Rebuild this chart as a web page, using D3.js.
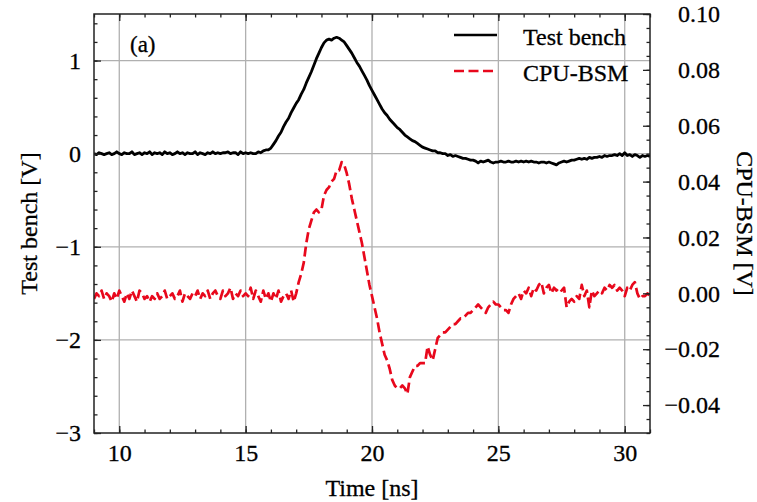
<!DOCTYPE html>
<html>
<head>
<meta charset="utf-8">
<script src="https://cdn.jsdelivr.net/npm/d3@7"></script>
<style>
  body { margin: 0; background: white; }
  svg { font-family: "Liberation Serif", "DejaVu Serif", serif; }
  svg text { fill: #000; stroke: #000; stroke-width: 0.3px; }
</style>
</head>
<body>
<svg id="chart" width="757" height="502"></svg>
<script>
// sample times [ns]
var timeNs = [
  9.0, 9.1, 9.2, 9.3, 9.4, 9.5, 9.6, 9.7, 9.8, 9.9,
  10.0, 10.1, 10.2, 10.3, 10.4, 10.5, 10.6, 10.7, 10.8, 10.9,
  11.0, 11.1, 11.2, 11.3, 11.4, 11.5, 11.6, 11.7, 11.8, 11.9,
  12.0, 12.1, 12.2, 12.3, 12.4, 12.5, 12.6, 12.7, 12.8, 12.9,
  13.0, 13.1, 13.2, 13.3, 13.4, 13.5, 13.6, 13.7, 13.8, 13.9,
  14.0, 14.1, 14.2, 14.3, 14.4, 14.5, 14.6, 14.7, 14.8, 14.9,
  15.0, 15.1, 15.2, 15.3, 15.4, 15.5, 15.6, 15.7, 15.8, 15.9,
  16.0, 16.1, 16.2, 16.3, 16.4, 16.5, 16.6, 16.7, 16.8, 16.9,
  17.0, 17.1, 17.2, 17.3, 17.4, 17.5, 17.6, 17.7, 17.8, 17.9,
  18.0, 18.1, 18.2, 18.3, 18.4, 18.5, 18.6, 18.7, 18.8, 18.9,
  19.0, 19.1, 19.2, 19.3, 19.4, 19.5, 19.6, 19.7, 19.8, 19.9,
  20.0, 20.1, 20.2, 20.3, 20.4, 20.5, 20.6, 20.7, 20.8, 20.9,
  21.0, 21.1, 21.2, 21.3, 21.4, 21.5, 21.6, 21.7, 21.8, 21.9,
  22.0, 22.1, 22.2, 22.3, 22.4, 22.5, 22.6, 22.7, 22.8, 22.9,
  23.0, 23.1, 23.2, 23.3, 23.4, 23.5, 23.6, 23.7, 23.8, 23.9,
  24.0, 24.1, 24.2, 24.3, 24.4, 24.5, 24.6, 24.7, 24.8, 24.9,
  25.0, 25.1, 25.2, 25.3, 25.4, 25.5, 25.6, 25.7, 25.8, 25.9,
  26.0, 26.1, 26.2, 26.3, 26.4, 26.5, 26.6, 26.7, 26.8, 26.9,
  27.0, 27.1, 27.2, 27.3, 27.4, 27.5, 27.6, 27.7, 27.8, 27.9,
  28.0, 28.1, 28.2, 28.3, 28.4, 28.5, 28.6, 28.7, 28.8, 28.9,
  29.0, 29.1, 29.2, 29.3, 29.4, 29.5, 29.6, 29.7, 29.8, 29.9,
  30.0, 30.1, 30.2, 30.3, 30.4, 30.5, 30.6, 30.7, 30.8, 30.9,
  31.0
];

// Test bench [V] (left axis)
var testBenchV = [
  0.00, -0.01, 0.01, 0.00, -0.01, 0.00, 0.01, -0.01, 0.00, 0.02,
  0.00, -0.01, 0.01, 0.00, 0.00, 0.02, -0.01, 0.00, 0.01, -0.01,
  0.01, 0.00, 0.02, -0.01, 0.01, 0.00, 0.01, -0.01, 0.02, 0.00,
  0.01, -0.01, 0.00, 0.02, 0.00, 0.01, -0.01, 0.01, 0.00, 0.00,
  0.02, -0.01, 0.01, 0.00, -0.01, 0.01, 0.00, 0.02, 0.00, 0.01,
  0.00, 0.01, 0.01, 0.02, 0.00, 0.01, 0.01, -0.01, 0.02, 0.00,
  0.01, 0.00, 0.01, 0.00, 0.00, 0.02, 0.01, 0.03, 0.04, 0.04,
  0.06, 0.10, 0.14, 0.19, 0.23, 0.29, 0.34, 0.38, 0.44, 0.49,
  0.54, 0.58, 0.64, 0.69, 0.76, 0.82, 0.88, 0.95, 1.02, 1.08,
  1.14, 1.19, 1.22, 1.23, 1.22, 1.24, 1.25, 1.24, 1.22, 1.20,
  1.16, 1.12, 1.08, 1.03, 0.98, 0.94, 0.89, 0.84, 0.79, 0.73,
  0.68, 0.63, 0.58, 0.53, 0.48, 0.44, 0.41, 0.37, 0.34, 0.31,
  0.28, 0.26, 0.23, 0.20, 0.18, 0.16, 0.14, 0.13, 0.11, 0.09,
  0.07, 0.06, 0.05, 0.04, 0.03, 0.03, 0.01, 0.01, 0.00, 0.00,
  -0.02, -0.01, -0.03, -0.02, -0.03, -0.04, -0.05, -0.05, -0.06, -0.07,
  -0.07, -0.08, -0.10, -0.08, -0.09, -0.08, -0.07, -0.09, -0.10, -0.09,
  -0.09, -0.08, -0.09, -0.09, -0.08, -0.09, -0.09, -0.08, -0.09, -0.08,
  -0.09, -0.08, -0.09, -0.08, -0.09, -0.09, -0.10, -0.09, -0.09, -0.10,
  -0.09, -0.10, -0.11, -0.12, -0.10, -0.09, -0.08, -0.09, -0.08, -0.07,
  -0.07, -0.06, -0.05, -0.06, -0.05, -0.06, -0.04, -0.05, -0.04, -0.04,
  -0.03, -0.04, -0.02, -0.03, -0.02, -0.02, -0.01, -0.02, 0.00, -0.02,
  0.01, -0.02, -0.01, -0.03, -0.01, -0.02, -0.04, -0.02, -0.03, -0.02,
  -0.03
];

// CPU-BSM [V] (right axis)
var cpuBsmV = [
  -0.002, 0.000, -0.001, 0.001, -0.002, 0.000, -0.001, -0.003, 0.000, -0.002,
  0.001, -0.001, -0.003, 0.000, -0.002, 0.001, -0.001, -0.003, 0.001, 0.000,
  -0.002, -0.001, -0.003, -0.001, -0.002, 0.000, -0.002, -0.001, 0.001, -0.002,
  -0.001, 0.000, -0.002, -0.001, 0.001, -0.003, 0.000, -0.001, -0.002, 0.000,
  -0.001, 0.001, -0.002, 0.000, -0.001, 0.001, -0.002, 0.000, 0.001, -0.001,
  -0.002, 0.001, -0.001, 0.000, 0.002, -0.002, 0.000, -0.001, 0.001, -0.001,
  0.000, -0.001, 0.002, -0.002, 0.001, -0.001, -0.003, 0.001, -0.002, 0.000,
  -0.003, 0.000, -0.002, 0.001, -0.003, -0.001, 0.000, -0.002, 0.001, -0.003,
  0.000, 0.004, 0.007, 0.011, 0.018, 0.023, 0.026, 0.029, 0.030, 0.029,
  0.030, 0.035, 0.037, 0.038, 0.040, 0.041, 0.044, 0.044, 0.047, 0.046,
  0.043, 0.039, 0.034, 0.030, 0.026, 0.022, 0.018, 0.013, 0.008, 0.003,
  -0.001, -0.005, -0.009, -0.014, -0.018, -0.022, -0.024, -0.027, -0.031, -0.033,
  -0.034, -0.034, -0.033, -0.034, -0.036, -0.030, -0.028, -0.026, -0.026, -0.025,
  -0.025, -0.025, -0.019, -0.022, -0.024, -0.020, -0.016, -0.015, -0.014, -0.014,
  -0.013, -0.012, -0.011, -0.011, -0.010, -0.009, -0.009, -0.008, -0.007, -0.007,
  -0.006, -0.005, -0.004, -0.005, -0.006, -0.007, -0.005, -0.004, -0.003, -0.004,
  -0.004, -0.005, -0.006, -0.006, -0.007, -0.004, -0.002, -0.001, 0.000, -0.002,
  0.001, 0.000, 0.002, -0.001, 0.002, 0.001, 0.003, 0.004, 0.000, 0.002,
  0.003, 0.000, 0.002, 0.001, 0.002, 0.001, 0.002, -0.005, -0.003, -0.002,
  -0.003, -0.001, -0.002, 0.003, -0.001, 0.001, -0.005, 0.001, -0.001, 0.000,
  0.001, 0.000, 0.002, 0.001, 0.003, 0.002, 0.003, 0.001, 0.002, 0.001,
  -0.001, 0.002, 0.001, 0.003, 0.004, 0.000, -0.002, -0.001, -0.001, 0.000,
  -0.001
];

var xTicks = [10, 15, 20, 25, 30];
var leftTicks = [-3, -2, -1, 0, 1];
var rightTicks = [-0.04, -0.02, 0.00, 0.02, 0.04, 0.06, 0.08, 0.10];
var seriesNames = ["Test bench", "CPU-BSM"];

function build_chart() {
    var svg = d3.select("#chart");
    const margins = {top: 14, right: 107, bottom: 69, left: 94};
    const width = 757 - margins.left - margins.right;
    const height = 502 - margins.top - margins.bottom;
    const red = "#e8081c";
    const fontFamily = "'Liberation Serif', 'DejaVu Serif', serif";
    const fontSize = 24;

    var x = d3.scaleLinear().domain([9, 31]).range([0, width]);
    var yLeft = d3.scaleLinear().domain([-3, 1.5]).range([height, 0]);
    var yRight = d3.scaleLinear().domain([-0.05, 0.10]).range([height, 0]);

    var g = svg.append("g").attr("transform", "translate(" + margins.left + "," + margins.top + ")");

    // grid
    g.append("g").selectAll("line.vgrid")
        .data(xTicks).enter().append("line")
        .attr("x1", d => x(d)).attr("x2", d => x(d))
        .attr("y1", 0).attr("y2", height)
        .attr("stroke", "#b0b0b0").attr("stroke-width", 1.3);
    g.append("g").selectAll("line.hgrid")
        .data(leftTicks.filter(d => d > -3)).enter().append("line")
        .attr("x1", 0).attr("x2", width)
        .attr("y1", d => yLeft(d)).attr("y2", d => yLeft(d))
        .attr("stroke", "#b0b0b0").attr("stroke-width", 1.3);

    // lines
    svg.append("defs").append("clipPath").attr("id", "plot_clip")
        .append("rect").attr("width", width).attr("height", height);
    var plot = g.append("g").attr("clip-path", "url(#plot_clip)");

    var lineLeft = d3.line().x((d, i) => x(timeNs[i])).y(d => yLeft(d));
    var lineRight = d3.line().x((d, i) => x(timeNs[i])).y(d => yRight(d));

    plot.append("path")
        .attr("fill", "none").attr("stroke", red)
        .attr("stroke-width", 2.7).attr("stroke-dasharray", "10,4.5")
        .attr("stroke-linejoin", "round")
        .attr("d", lineRight(cpuBsmV));
    plot.append("path")
        .attr("fill", "none").attr("stroke", "black")
        .attr("stroke-width", 2.8).attr("stroke-linejoin", "round")
        .attr("d", lineLeft(testBenchV));

    // axes, ticks pointing inward
    var minorX = d3.range(9, 31.01, 1);
    var minorLeft = d3.range(-3, 1.41, 0.2);
    var minorRight = d3.range(-0.05, 0.1001, 0.005);

    function styleAxis(sel) {
        sel.select(".domain").remove();
        sel.attr("font-family", fontFamily).attr("font-size", fontSize);
        sel.selectAll(".tick line").attr("stroke", "#222").attr("stroke-width", 1.3);
    }

    g.append("g").attr("transform", "translate(0," + height + ")")
        .call(d3.axisBottom(x).tickValues(minorX).tickSizeInner(-3.5).tickSizeOuter(0).tickFormat(""))
        .call(styleAxis);
    g.append("g").attr("transform", "translate(0," + height + ")")
        .call(d3.axisBottom(x).tickValues(xTicks).tickSizeInner(-7).tickSizeOuter(0).tickPadding(11).tickFormat(d3.format("d")))
        .call(styleAxis);
    g.append("g")
        .call(d3.axisTop(x).tickValues(minorX).tickSizeInner(-3.5).tickSizeOuter(0).tickFormat(""))
        .call(styleAxis);
    g.append("g")
        .call(d3.axisTop(x).tickValues(xTicks).tickSizeInner(-7).tickSizeOuter(0).tickFormat(""))
        .call(styleAxis);

    g.append("g")
        .call(d3.axisLeft(yLeft).tickValues(minorLeft).tickSizeInner(-3.5).tickSizeOuter(0).tickFormat(""))
        .call(styleAxis);
    g.append("g")
        .call(d3.axisLeft(yLeft).tickValues(leftTicks).tickSizeInner(-7).tickSizeOuter(0).tickPadding(13).tickFormat(d3.format("d")))
        .call(styleAxis);

    g.append("g").attr("transform", "translate(" + width + ",0)")
        .call(d3.axisRight(yRight).tickValues(minorRight).tickSizeInner(-3.5).tickSizeOuter(0).tickFormat(""))
        .call(styleAxis);
    // right labels are right-aligned, as in the original figure
    g.append("g").attr("transform", "translate(" + width + ",0)")
        .call(d3.axisRight(yRight).tickValues(rightTicks).tickSizeInner(-7).tickSizeOuter(0).tickPadding(70).tickFormat(d3.format(".2f")))
        .call(styleAxis)
        .attr("text-anchor", "end");

    // frame
    g.append("rect").attr("width", width).attr("height", height)
        .attr("fill", "none").attr("stroke", "#222").attr("stroke-width", 1.5);

    // labels
    svg.append("text")
        .attr("x", margins.left + width / 2).attr("y", 496)
        .attr("text-anchor", "middle").attr("font-size", fontSize)
        .text("Time [ns]");
    svg.append("text")
        .attr("transform", "translate(37," + (margins.top + height / 2) + ") rotate(-90)")
        .attr("text-anchor", "middle").attr("font-size", fontSize)
        .text("Test bench [V]");
    svg.append("text")
        .attr("transform", "translate(737," + (margins.top + height / 2) + ") rotate(90)")
        .attr("text-anchor", "middle").attr("font-size", fontSize)
        .text("CPU-BSM [V]");
    g.append("text")
        .attr("x", 36).attr("y", 38)
        .attr("font-size", fontSize - 1)
        .text("(a)");

    // legend
    var legend = g.append("g").attr("transform", "translate(360,21)");
    var items = legend.selectAll("g.item").data(seriesNames).enter()
        .append("g").attr("transform", (d, i) => "translate(0," + i * 36 + ")");
    items.append("line")
        .attr("x1", 0).attr("x2", 43).attr("y1", 0).attr("y2", 0)
        .attr("stroke", (d, i) => i == 0 ? "black" : red)
        .attr("stroke-width", 2.7)
        .attr("stroke-dasharray", (d, i) => i == 0 ? null : "10,4.5");
    items.append("text")
        .attr("x", 69).attr("y", 2)
        .attr("dominant-baseline", "central")
        .attr("font-size", fontSize)
        .text(d => d);
}

build_chart();
</script>
</body>
</html>
